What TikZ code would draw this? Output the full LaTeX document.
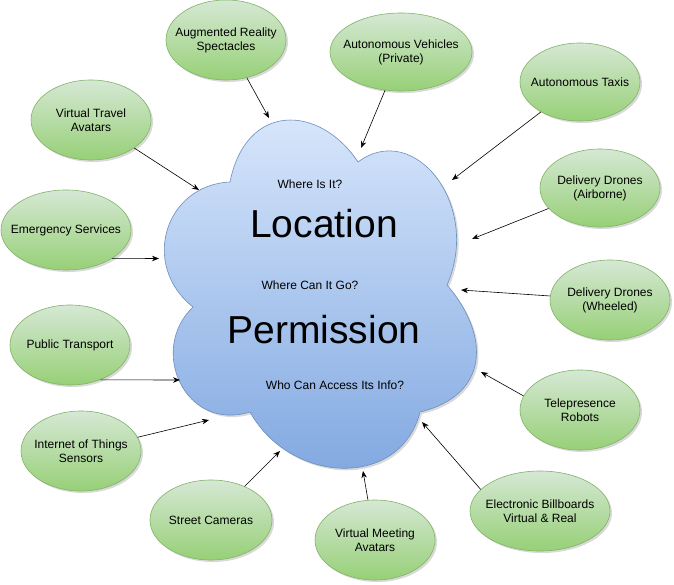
\documentclass[tikz,border=0pt]{standalone}
\usepackage{fontspec}
\setmainfont{Liberation Sans}
\usetikzlibrary{arrows.meta,shapes.geometric,shadows}
\definecolor{cAppTop}{HTML}{D5E8D4}
\definecolor{cAppBot}{HTML}{97D077}
\definecolor{cAppLine}{HTML}{82B366}
\definecolor{cBlobTop}{HTML}{DAE8FC}
\definecolor{cBlobBot}{HTML}{7EA6E0}
\definecolor{cBlobLine}{HTML}{6C8EBF}
\tikzset{
  app/.style={ellipse, draw=cAppLine, line width=0.6pt, top color=cAppTop, bottom color=cAppBot,
              align=center, minimum width=120pt, minimum height=80pt,
              inner xsep=-12pt, inner ysep=0pt, font=\fontsize{12}{14}\selectfont,
              drop shadow={shadow xshift=2pt, shadow yshift=-2pt, fill=black, opacity=0.15}},
  blob/.style={draw=cBlobLine, line width=0.6pt, top color=cBlobTop, bottom color=cBlobBot,
               drop shadow={shadow xshift=2pt, shadow yshift=-2pt, fill=black, opacity=0.15}},
  ar/.style={-{Stealth[length=7pt, width=5.5pt]}, line width=0.6pt},
  ask/.style={anchor=base, inner sep=0pt, font=\fontsize{12}{14}\selectfont},
  key/.style={anchor=base, inner sep=0pt, font=\fontsize{39}{44}\selectfont},
}

\begin{document}
\begin{tikzpicture}[x=1pt, y=-1pt]
  \useasboundingbox (0,0) rectangle (674,585);
  \fill[white] (0,0) rectangle (674,585);

  % the cloud
  \path[blob] (230,182)
    .. controls (246,102) and (319.5,104) .. (358,162)
    .. controls (414,120) and (482,205) .. (447,285)
    .. controls (490,335) and (490,395) .. (420,412)
    .. controls (400,490) and (290,484) .. (250,412)
    .. controls (185,432) and (148,350) .. (193,307)
    .. controls (140,265) and (165,185) .. (230,182) -- cycle;

  \node[ask] (q1) at (310,189) {Where Is It?};
  \node[key] (loc) at (324,237) {Location};
  \node[ask] (q2) at (310,289) {Where Can It Go?};
  \node[key] (perm) at (324,343) {Permission};
  \node[ask] (q3) at (335,389) {Who Can Access Its Info?};

  % the uses round it
  \node[app] (spec) at (226,40) {Augmented Reality\\Spectacles};
  \node[app, minimum width=142pt, minimum height=78pt] (cars) at (401,52) {Autonomous Vehicles\\(Private)};
  \node[app, minimum height=78pt] (taxi) at (580,82) {Autonomous Taxis};
  \node[app] (travel) at (91,120) {Virtual Travel\\Avatars};
  \node[app, minimum height=78pt] (drair) at (600,188) {Delivery Drones\\(Airborne)};
  \node[app, minimum width=130pt] (emerg) at (66,230) {Emergency Services};
  \node[app] (drwheel) at (610,300) {Delivery Drones\\(Wheeled)};
  \node[app] (transit) at (70,345) {Public Transport};
  \node[app] (robot) at (580,410) {Telepresence\\Robots};
  \node[app] (iot) at (81,451) {Internet of Things\\Sensors};
  \node[app, minimum width=140pt] (board) at (540,511) {Electronic Billboards\\Virtual \& Real};
  \node[app] (meet) at (375,540) {Virtual Meeting\\Avatars};
  \node[app, minimum width=122pt] (cam) at (211,520) {Street Cameras};

  % arrow ends at the cloud
  \coordinate (spec-in) at (269,118);
  \coordinate (cars-in) at (361,148);
  \coordinate (taxi-in) at (452,180);
  \coordinate (travel-in) at (199,190);
  \coordinate (drair-in) at (472,239);
  \coordinate (emerg-in) at (159,258.5);
  \coordinate (drwheel-in) at (461,290);
  \coordinate (transit-in) at (180,380);
  \coordinate (robot-in) at (481,372);
  \coordinate (iot-in) at (209,420);
  \coordinate (board-in) at (422,422);
  \coordinate (meet-in) at (363,471);
  \coordinate (cam-in) at (280,451);

  \draw[ar] (spec) -- (spec-in);
  \draw[ar] (cars) -- (cars-in);
  \draw[ar] (taxi) -- (taxi-in);
  \draw[ar] (travel) -- (travel-in);
  \draw[ar] (drair) -- (drair-in);
  \draw[ar] (emerg.-32) -- (emerg-in);
  \draw[ar] (drwheel) -- (drwheel-in);
  \draw[ar] (transit.-49) -- (transit-in);
  \draw[ar] (robot.166) -- (robot-in);
  \draw[ar] (iot) -- (iot-in);
  \draw[ar] (board.160) -- (board-in);
  \draw[ar] (meet.100) -- (meet-in);
  \draw[ar] (cam) -- (cam-in);
\end{tikzpicture}
\end{document}
